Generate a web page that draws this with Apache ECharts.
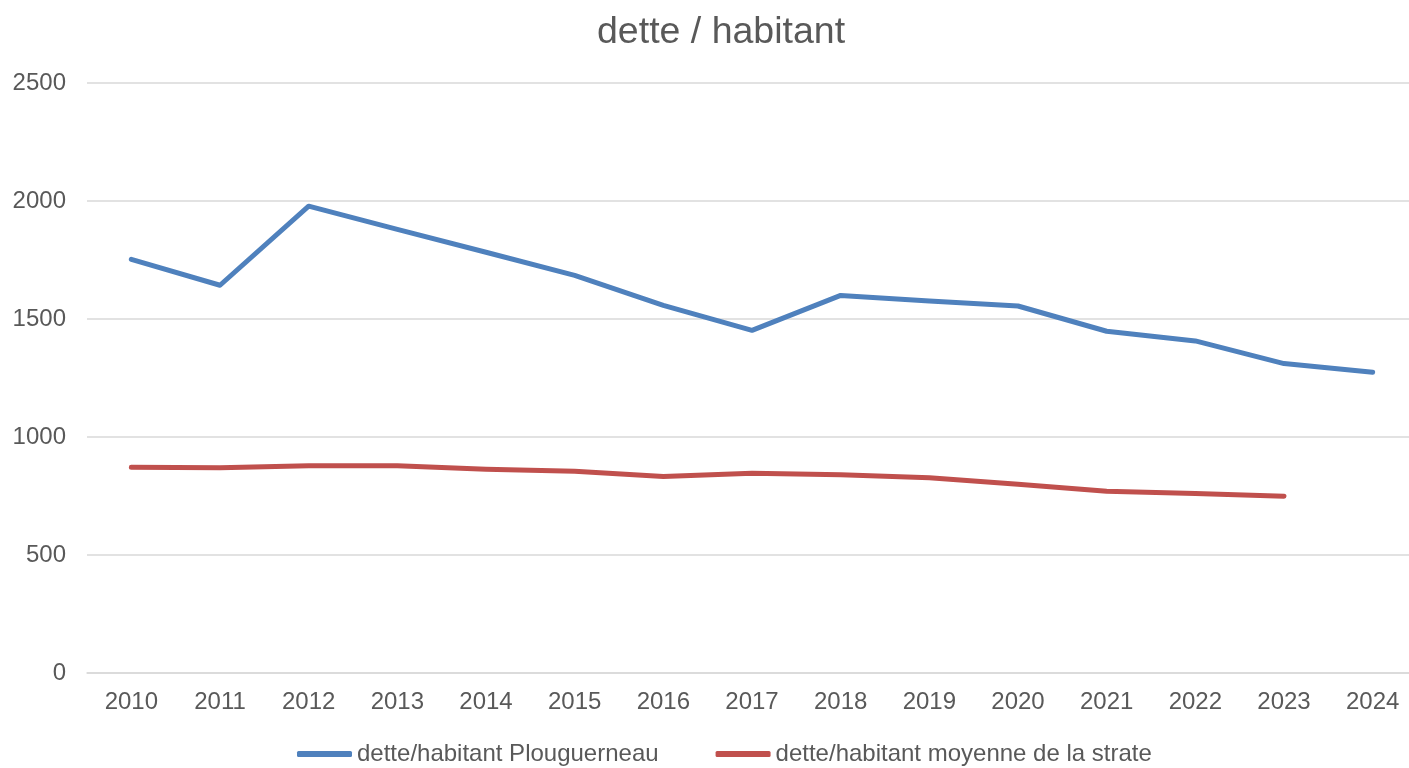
<!DOCTYPE html>
<html>
<head>
<meta charset="utf-8">
<script src="https://cdn.jsdelivr.net/npm/echarts@6/dist/echarts.min.js"></script>
<style>
html,body{margin:0;padding:0;background:#fff;overflow:hidden;}
#chart{width:1420px;height:768px;}
</style>
</head>
<body>
<div id="chart"></div>
<script>
const chartTitle = "dette / habitant";
const years = ["2010","2011","2012","2013","2014","2015","2016","2017","2018","2019","2020","2021","2022","2023","2024"];
const seriesNames = ["dette/habitant Plouguerneau", "dette/habitant moyenne de la strate"];
const plouguerneau = [1753, 1643, 1978, 1880, 1783, 1685, 1558, 1452, 1600, 1576, 1555, 1448, 1407, 1311, 1274];
const strate = [872, 870, 878, 878, 863, 855, 833, 846, 840, 827, 800, 770, 761, 749, null];
const yTicks = { min: 0, max: 2500, interval: 500 };

const font = "'Liberation Sans', Arial, sans-serif";
const txt = "#595959";
const chart = echarts.init(document.getElementById('chart'), null, {renderer: 'canvas'});
chart.setOption({
  animation: false,
  backgroundColor: '#ffffff',
  title: {
    text: chartTitle,
    left: 592,
    top: 9,
    textStyle: { fontFamily: font, fontSize: 37.5, fontWeight: 'normal', color: txt }
  },
  legend: {
    left: 292,
    top: 737,
    itemWidth: 55,
    itemHeight: 6,
    itemGap: 57,
    icon: 'roundRect',
    textStyle: { fontFamily: font, fontSize: 24, color: txt },
    data: seriesNames
  },
  grid: { left: 87, top: 83, width: 1330, height: 590, containLabel: false },
  xAxis: {
    type: 'category',
    data: years,
    boundaryGap: true,
    axisLine: { show: true, lineStyle: { color: '#d9d9d9', width: 1.5 } },
    axisTick: { show: false },
    axisLabel: { fontFamily: font, fontSize: 24, color: txt, margin: 17 }
  },
  yAxis: {
    type: 'value',
    min: yTicks.min,
    max: yTicks.max,
    interval: yTicks.interval,
    axisLine: { show: false },
    axisTick: { show: false },
    splitLine: { lineStyle: { color: '#d9d9d9', width: 1.5 } },
    axisLabel: { fontFamily: font, fontSize: 24, color: txt, margin: 21, formatter: v => String(v) }
  },
  series: [
    {
      name: seriesNames[0], type: 'line', data: plouguerneau,
      showSymbol: false, symbol: 'none',
      itemStyle: { color: '#4f81bd' },
      lineStyle: { color: '#4f81bd', width: 5, cap: 'round', join: 'round' }
    },
    {
      name: seriesNames[1], type: 'line', data: strate,
      showSymbol: false, symbol: 'none',
      itemStyle: { color: '#c0504d' },
      lineStyle: { color: '#c0504d', width: 5, cap: 'round', join: 'round' }
    }
  ]
});
</script>
</body>
</html>
